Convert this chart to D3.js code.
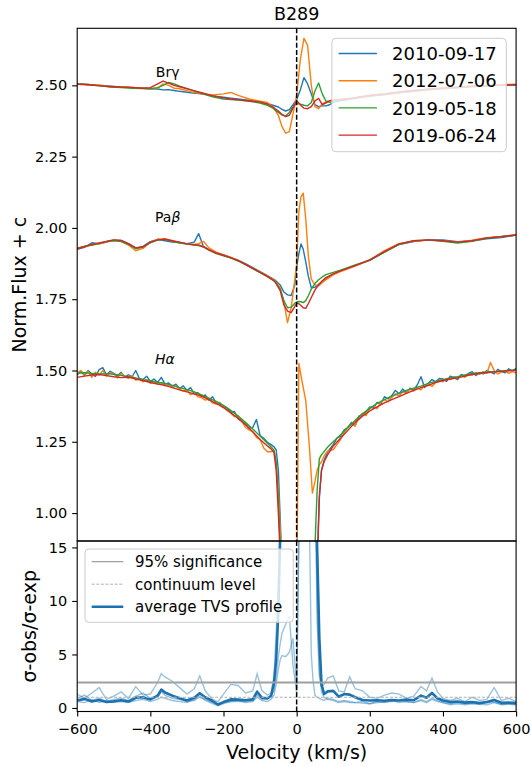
<!DOCTYPE html>
<html><head><meta charset="utf-8">
<script src="https://cdn.jsdelivr.net/npm/d3@7"></script>
<style>body{margin:0;background:#fff}text{font-family:"DejaVu Sans",sans-serif;fill:#000}</style>
</head><body><svg id="c" width="531" height="767"></svg>
<script>
// ---------- data ----------
const title = "B289";
const dates = ["2010-09-17","2012-07-06","2019-05-18","2019-06-24"];
const colors = ["#1f77b4","#ff7f0e","#2ca02c","#d62728"];
const lineNames = ["Brγ","Paβ","Hα"];
const xTicks = [-600,-400,-200,0,200,400,600];
const yTicksTop = [1.00,1.25,1.50,1.75,2.00,2.25,2.50];
const yTicksBottom = [0,5,10,15];
const tvsLegend = ["95% significance","continuum level","average TVS profile"];
const sigLevel = 2.38;
const contLevel = 1.0;

const velBrg = [-600,-570,-540,-510,-480,-450,-420,-400,-380,-365,-350,-335,-320,-290,-260,-230,-200,-180,-160,-130,-100,
  -80,-65,-50,-40,-30,-20,-10,0,10,20,30,40,50,60,70,80,90,100,
  120,150,180,210,240,270,300,330,360,390,420,450,480,510,540,570,600];
const brg2010 = [2.505,2.503,2.500,2.497,2.494,2.492,2.490,2.488,2.487,2.484,2.485,2.482,2.479,2.474,2.470,2.463,2.458,2.455,2.452,2.447,2.442,
  2.436,2.430,2.424,2.416,2.410,2.415,2.432,2.450,2.484,2.527,2.505,2.470,2.432,2.425,2.428,2.428,2.432,2.440,
  2.446,2.452,2.458,2.463,2.467,2.472,2.476,2.480,2.484,2.487,2.490,2.492,2.495,2.497,2.499,2.500,2.502];
const brg2012 = [2.506,2.502,2.501,2.496,2.495,2.493,2.490,2.488,2.490,2.505,2.500,2.490,2.488,2.478,2.470,2.466,2.470,2.475,2.465,2.452,2.444,
  2.440,2.425,2.395,2.355,2.332,2.338,2.400,2.465,2.590,2.665,2.640,2.500,2.425,2.418,2.435,2.442,2.446,2.448,
  2.452,2.455,2.460,2.466,2.470,2.474,2.478,2.482,2.486,2.489,2.491,2.494,2.497,2.499,2.501,2.503,2.504];
const brg2019a = [2.505,2.503,2.499,2.494,2.492,2.490,2.489,2.488,2.492,2.500,2.510,2.505,2.497,2.485,2.472,2.460,2.452,2.450,2.448,2.444,2.438,
  2.430,2.420,2.405,2.396,2.393,2.405,2.425,2.436,2.434,2.430,2.428,2.440,2.480,2.508,2.470,2.445,2.440,2.444,
  2.449,2.454,2.460,2.465,2.470,2.474,2.479,2.483,2.486,2.489,2.492,2.494,2.497,2.499,2.500,2.501,2.502];
const brg2019b = [2.504,2.502,2.498,2.496,2.494,2.493,2.490,2.492,2.505,2.515,2.508,2.500,2.495,2.484,2.474,2.464,2.456,2.452,2.449,2.446,2.442,
  2.434,2.424,2.410,2.398,2.390,2.395,2.420,2.446,2.432,2.420,2.418,2.425,2.445,2.454,2.432,2.438,2.446,2.448,
  2.450,2.455,2.461,2.466,2.470,2.475,2.479,2.483,2.486,2.489,2.492,2.494,2.497,2.498,2.500,2.501,2.502];

const velPab = [-600,-580,-560,-540,-520,-500,-480,-460,-440,-420,-400,-380,-360,-340,-320,-300,-280,-268,-255,-240,-220,-200,-180,-160,-140,-120,-100,-80,-60,
  -45,-35,-25,-15,-5,0,
  6,12,18,25,32,40,50,60,70,80,
  100,120,160,200,240,280,320,360,400,440,480,520,560,600];
const pab2010 = [1.925,1.932,1.948,1.944,1.950,1.957,1.956,1.945,1.930,1.935,1.952,1.960,1.955,1.950,1.949,1.945,1.950,1.980,1.935,1.924,1.913,1.905,1.896,1.887,1.875,1.861,1.847,1.833,1.818,
  1.800,1.775,1.765,1.763,1.800,1.862,
  1.910,1.944,1.925,1.880,1.830,1.790,1.792,1.802,1.812,1.822,
  1.838,1.849,1.868,1.886,1.915,1.942,1.952,1.958,1.958,1.952,1.955,1.962,1.966,1.975];
const pab2012 = [1.928,1.934,1.940,1.944,1.950,1.957,1.953,1.940,1.920,1.928,1.950,1.960,1.962,1.955,1.948,1.944,1.942,1.945,1.953,1.930,1.915,1.905,1.897,1.886,1.872,1.858,1.845,1.832,1.815,
  1.790,1.740,1.668,1.720,1.820,1.873,
  2.057,2.110,2.122,2.030,1.900,1.820,1.800,1.797,1.808,1.818,
  1.835,1.847,1.866,1.888,1.920,1.945,1.953,1.957,1.955,1.950,1.957,1.966,1.970,1.976];
const pab2019a = [1.929,1.936,1.940,1.946,1.952,1.955,1.952,1.942,1.927,1.933,1.948,1.957,1.960,1.953,1.947,1.943,1.940,1.938,1.933,1.922,1.910,1.902,1.894,1.884,1.871,1.857,1.843,1.829,1.812,
  1.785,1.745,1.720,1.722,1.736,1.740,
  1.742,1.741,1.738,1.745,1.762,1.785,1.805,1.818,1.828,1.836,
  1.844,1.852,1.870,1.887,1.915,1.942,1.955,1.957,1.953,1.947,1.953,1.964,1.970,1.975];
const pab2019b = [1.927,1.934,1.942,1.947,1.953,1.958,1.956,1.945,1.930,1.933,1.950,1.958,1.960,1.955,1.950,1.944,1.941,1.940,1.934,1.923,1.912,1.904,1.896,1.885,1.872,1.858,1.844,1.830,1.813,
  1.780,1.730,1.708,1.703,1.725,1.736,
  1.734,1.728,1.720,1.718,1.735,1.756,1.782,1.800,1.815,1.826,
  1.839,1.849,1.868,1.888,1.917,1.944,1.955,1.958,1.955,1.950,1.955,1.965,1.969,1.975];

// H-alpha: smooth spectra (2019) on a coarser grid, noisy spectra (2010, 2012) on a finer grid
const velHa = [-600,-580,-560,-540,-520,-500,-480,-460,-440,-420,-400,-380,-360,-340,-320,-300,-280,-260,-240,-220,-200,-180,-160,-140,-120,-100,-80,
  -70,-62,-56,-50,-44,-38,-20,
  0,6,15,25,35,43,50,56,62,68,75,85,
  100,120,140,160,180,200,220,240,260,280,300,320,340,360,380,400,420,440,460,480,500,520,540,560,580,600];
const velHaFine = [-600,-590,-580,-570,-560,-550,-540,-530,-520,-510,-500,-490,-480,-470,-460,-450,-440,-430,-420,-410,
  -400,-390,-380,-370,-360,-350,-340,-330,-320,-310,-300,-290,-280,-270,-260,-250,-240,-230,-220,-210,
  -200,-190,-180,-170,-160,-150,-140,-130,-120,-110,-100,-90,-80,
  -70,-62,-56,-50,-44,-38,-20,
  0,6,15,25,35,43,50,56,62,68,75,85,
  100,110,120,130,140,150,160,170,180,190,200,210,220,230,240,250,260,270,280,290,
  300,310,320,330,340,350,360,370,380,390,400,410,420,430,440,450,460,470,480,490,
  500,510,520,530,540,550,560,570,580,590,600];
const ha2010 = [1.485,1.496,1.482,1.500,1.488,1.479,1.503,1.510,1.484,1.497,1.490,1.481,1.494,1.476,1.485,1.478,1.500,1.472,1.468,1.480,
  1.462,1.470,1.458,1.476,1.452,1.456,1.445,1.452,1.436,1.446,1.430,1.440,1.418,1.422,1.408,1.414,1.396,1.408,1.385,1.382,
  1.372,1.368,1.352,1.356,1.330,1.322,1.312,1.298,1.300,1.328,1.272,1.262,1.248,
  1.240,1.232,1.222,1.150,0.950,0.700,0.450,
  0.400,0.400,0.400,0.420,0.480,0.550,0.650,0.800,1.050,1.150,1.185,1.215,
  1.240,1.262,1.270,1.292,1.300,1.318,1.305,1.340,1.345,1.356,1.372,1.368,1.388,1.382,1.408,1.400,1.412,1.430,1.418,1.435,
  1.422,1.438,1.430,1.450,1.478,1.440,1.455,1.468,1.460,1.472,1.470,1.462,1.480,1.475,1.468,1.486,1.480,1.490,1.496,1.482,
  1.492,1.488,1.500,1.494,1.488,1.504,1.496,1.492,1.506,1.498,1.508];
const ha2012 = [1.492,1.500,1.485,1.497,1.476,1.494,1.484,1.500,1.480,1.492,1.488,1.474,1.490,1.478,1.472,1.482,1.466,1.470,1.460,1.468,
  1.455,1.462,1.452,1.458,1.446,1.450,1.440,1.446,1.434,1.428,1.432,1.415,1.420,1.408,1.405,1.396,1.400,1.386,1.382,1.388,
  1.370,1.360,1.350,1.338,1.342,1.322,1.300,1.292,1.285,1.265,1.258,1.228,1.215,
  1.215,1.220,1.180,1.080,0.920,0.800,0.600,
  0.700,1.525,1.460,1.393,1.230,1.070,1.110,1.150,1.170,1.180,1.200,1.218,
  1.222,1.240,1.258,1.282,1.300,1.312,1.306,1.335,1.350,1.342,1.368,1.375,1.366,1.388,1.398,1.390,1.405,1.418,1.410,1.425,
  1.420,1.435,1.428,1.440,1.432,1.448,1.452,1.444,1.458,1.465,1.460,1.472,1.468,1.478,1.474,1.482,1.476,1.488,1.484,1.492,
  1.486,1.496,1.490,1.528,1.500,1.488,1.494,1.498,1.490,1.496,1.492];
const ha2019a = [1.490,1.492,1.490,1.488,1.489,1.487,1.483,1.478,1.474,1.468,1.463,1.458,1.455,1.448,1.440,1.433,1.425,1.414,1.403,1.392,1.378,1.360,1.340,1.318,1.295,1.270,1.245,
  1.232,1.220,1.180,1.050,0.850,0.650,0.450,
  0.400,0.400,0.400,0.420,0.480,0.600,0.880,1.080,1.190,1.205,1.215,1.232,
  1.250,1.275,1.300,1.325,1.348,1.367,1.385,1.398,1.410,1.420,1.430,1.438,1.445,1.455,1.462,1.468,1.474,1.478,1.484,1.490,1.492,1.494,1.496,1.498,1.500,1.502];
const ha2019b = [1.476,1.480,1.484,1.486,1.482,1.478,1.475,1.477,1.470,1.465,1.458,1.452,1.448,1.440,1.432,1.425,1.418,1.410,1.398,1.385,1.370,1.352,1.332,1.310,1.285,1.258,1.235,
  1.225,1.212,1.150,1.000,0.820,0.620,0.450,
  0.400,0.400,0.400,0.420,0.450,0.500,0.600,0.820,1.060,1.150,1.180,1.205,
  1.235,1.262,1.290,1.318,1.340,1.358,1.372,1.386,1.398,1.408,1.420,1.430,1.440,1.448,1.458,1.465,1.470,1.474,1.480,1.486,1.490,1.492,1.495,1.497,1.499,1.501];

const velTvs = [-600,-580,-560,-540,-520,-500,-480,-460,-440,-420,-400,-380,
  -370,-360,-340,-320,-300,-280,
  -265,-250,-230,-215,-200,
  -180,-160,-140,-120,
  -108,-95,-80,-70,-62,-56,-50,-45,-40,-30,-20,-10,0,
  10,20,30,40,45,50,56,62,68,75,85,
  100,115,130,145,160,
  180,200,220,240,260,280,300,320,340,
  355,370,385,400,
  420,440,460,480,500,520,540,560,580,600];
const tvsAvg = [0.70,0.85,0.60,0.75,0.55,0.62,0.72,0.60,0.95,1.00,0.80,1.15,
  1.72,1.45,1.15,0.90,0.70,0.95,
  1.38,1.00,0.65,0.32,0.55,
  0.80,0.78,0.72,0.80,
  1.52,0.95,0.90,1.10,2.30,4.50,9.00,16.0,22.0,30,30,30,30,
  30,30,30,30,30,25,15,6.5,2.2,1.3,1.55,
  1.60,1.05,1.30,1.25,1.00,
  0.75,0.70,0.72,0.68,0.75,0.70,0.78,0.72,1.15,
  0.95,1.40,0.90,0.70,
  0.55,0.60,0.50,0.55,0.45,0.55,0.75,0.48,0.50,0.45];
const tvsA = [1.3,0.9,1.4,1.9,0.8,1.1,1.5,0.9,2.0,1.2,1.3,2.4,
  3.2,2.9,2.5,1.9,1.3,1.8,
  3.0,1.6,0.8,0.6,1.3,
  2.2,2.1,1.4,1.6,
  3.2,1.6,1.2,1.4,3.0,7.0,12,18,25,30,30,30,30,
  30,30,30,30,30,22,8,3.0,2.0,2.2,2.8,
  3.0,1.6,1.5,2.9,1.8,
  1.6,1.0,0.9,1.2,1.4,1.3,0.9,1.1,2.0,
  1.6,2.8,1.5,0.9,
  0.7,0.9,0.6,1.0,0.7,0.8,1.9,0.7,0.9,0.6];
const tvsB = [0.9,1.2,0.7,0.9,0.6,0.8,0.9,0.7,1.1,1.4,0.9,1.0,
  1.5,1.2,0.9,0.8,0.6,0.7,
  1.0,0.8,0.5,0.3,0.5,
  0.6,0.6,0.6,0.7,
  1.2,0.8,0.9,1.2,1.6,3.0,4.8,6.0,7.0,7.8,8.6,4.0,1.4,
  25,30,30,5.0,2.5,1.2,1.0,0.9,0.8,0.7,0.9,
  0.8,0.6,0.7,0.6,0.5,
  0.45,0.4,0.5,0.55,0.6,0.7,0.6,0.5,0.8,
  0.6,0.9,0.7,0.5,
  0.4,0.5,0.4,0.45,0.4,0.5,0.55,0.35,0.4,0.35];
const tvsC = [0.6,0.5,0.8,0.5,0.7,0.5,0.6,0.5,0.7,0.8,0.6,0.8,
  1.0,0.9,0.7,0.6,0.5,0.8,
  1.1,0.7,0.4,0.2,0.4,
  0.6,0.7,0.5,0.6,
  1.0,0.7,0.6,0.8,1.2,2.2,3.6,4.5,4.9,4.8,5.2,6.5,2.0,
  25,30,30,30,30,25,10,3.5,1.5,1.0,0.8,
  0.7,0.5,0.6,0.5,0.5,
  0.6,0.4,0.6,0.5,0.7,0.5,0.6,0.5,0.7,
  0.5,0.8,0.6,0.5,
  0.3,0.4,0.3,0.4,0.35,0.3,0.5,0.3,0.35,0.3];

const spectra = [
  {vel: velBrg, s: [brg2010, brg2012, brg2019a, brg2019b]},
  {vel: velPab, s: [pab2010, pab2012, pab2019a, pab2019b]},
  {vel: [velHaFine, velHaFine, velHa, velHa], s: [ha2010, ha2012, ha2019a, ha2019b]}
];

// ---------- layout ----------
const L = 77.2, R = 516.1, T = 28.3, MID = 541, B = 711.5;
const svg = d3.select("#c");
svg.append("rect").attr("width",531).attr("height",767).attr("fill","#fff");

const x = d3.scaleLinear().domain([-600,600]).range([L,R]);
const y1 = d3.scaleLinear().domain([0.902,2.70]).range([MID,T]);
const y2 = d3.scaleLinear().domain([-0.33,15.6]).range([B,MID]);

const defs = svg.append("defs");
defs.append("clipPath").attr("id","cTop").append("rect").attr("x",L).attr("y",T).attr("width",R-L).attr("height",MID-T);
defs.append("clipPath").attr("id","cBot").append("rect").attr("x",L).attr("y",MID).attr("width",R-L).attr("height",B-MID);

// ---------- top panel ----------
const gTop = svg.append("g").attr("clip-path","url(#cTop)");
spectra.forEach(p => {
  p.s.forEach((s,k) => {
    const vel = Array.isArray(p.vel[0]) ? p.vel[k] : p.vel;
    const pts = vel.map((v,i) => [v, s[i]]).filter(d => d[1] !== undefined);
    gTop.append("path").datum(pts)
      .attr("d", d3.line().x(d=>x(d[0])).y(d=>y1(d[1])))
      .attr("fill","none").attr("stroke",colors[k]).attr("stroke-width",1.4)
      .attr("stroke-linejoin","round");
  });
});
gTop.append("line").attr("x1",x(0)).attr("x2",x(0)).attr("y1",T).attr("y2",MID)
  .attr("stroke","#000").attr("stroke-width",1.5).attr("stroke-dasharray","5,2.2");

// line labels
const lbl = svg.append("g").style("font-size","14px");
lbl.append("text").attr("x",155.8).attr("y",77.3).text(lineNames[0]);
const tPa = lbl.append("text").attr("x",155).attr("y",221.7);
tPa.append("tspan").text("Pa"); tPa.append("tspan").style("font-style","italic").text("β");
lbl.append("text").attr("x",155).attr("y",364).style("font-style","italic").text("Hα");

// top legend
const lg = svg.append("g");
lg.append("rect").attr("x",331.9).attr("y",38.3).attr("width",174.4).attr("height",113.4).attr("rx",4)
  .attr("fill","#fff").attr("fill-opacity",0.8).attr("stroke","#ccc").attr("stroke-width",1);
dates.forEach((d,k) => {
  const yy = 53.5 + k*27.2;
  lg.append("line").attr("x1",338.6).attr("x2",376.9).attr("y1",yy).attr("y2",yy)
    .attr("stroke",colors[k]).attr("stroke-width",1.4);
  lg.append("text").attr("x",392.1).attr("y",yy+6.6).style("font-size","18px").text(d);
});

// ---------- bottom panel ----------
const gBot = svg.append("g").attr("clip-path","url(#cBot)");
[tvsA, tvsB, tvsC].forEach(s => {
  const pts = velTvs.map((v,i)=>[v, s[i]]);
  gBot.append("path").datum(pts).attr("d", d3.line().x(d=>x(d[0])).y(d=>y2(d[1])))
    .attr("fill","none").attr("stroke","#1f77b4").attr("stroke-opacity",0.45).attr("stroke-width",1.4);
});
gBot.append("path").datum(velTvs.map((v,i)=>[v, tvsAvg[i]]))
  .attr("d", d3.line().x(d=>x(d[0])).y(d=>y2(d[1])))
  .attr("fill","none").attr("stroke","#1b72b0").attr("stroke-width",2.6).attr("stroke-linejoin","round");
gBot.append("line").attr("x1",L).attr("x2",R).attr("y1",y2(sigLevel)).attr("y2",y2(sigLevel))
  .attr("stroke","#a0a0a0").attr("stroke-width",1.8);
gBot.append("line").attr("x1",L).attr("x2",R).attr("y1",y2(contLevel)).attr("y2",y2(contLevel))
  .attr("stroke","#b0b0b0").attr("stroke-width",1).attr("stroke-dasharray","3,1.6");
gBot.append("line").attr("x1",x(0)).attr("x2",x(0)).attr("y1",MID).attr("y2",B)
  .attr("stroke","#000").attr("stroke-width",1.5).attr("stroke-dasharray","5,2.2");

// bottom legend
const lg2 = svg.append("g");
lg2.append("rect").attr("x",85).attr("y",549).attr("width",208.3).attr("height",73.3).attr("rx",4)
  .attr("fill","#fff").attr("fill-opacity",0.8).attr("stroke","#ccc").attr("stroke-width",1);
const lgStyles = [
  {c:"#a0a0a0", w:1.3, dash:null},
  {c:"#b0b0b0", w:1, dash:"3,1.6"},
  {c:"#1b72b0", w:2.6, dash:null}
];
tvsLegend.forEach((t,k) => {
  const yy = 561.7 + k*22.5;
  const ln = lg2.append("line").attr("x1",91.7).attr("x2",123.3).attr("y1",yy).attr("y2",yy)
    .attr("stroke",lgStyles[k].c).attr("stroke-width",lgStyles[k].w);
  if (lgStyles[k].dash) ln.attr("stroke-dasharray",lgStyles[k].dash);
  lg2.append("text").attr("x",135).attr("y",yy+5.4).style("font-size","15px").text(t);
});

// ---------- axes ----------
function styleAxis(g){
  g.select(".domain").remove();
  g.selectAll(".tick line").attr("stroke","#000").attr("stroke-width",1.1);
  g.selectAll(".tick text").style("font-size","14.5px").style("font-family","DejaVu Sans").attr("fill","#000");
}
svg.append("g").attr("transform",`translate(${L},0)`)
  .call(d3.axisLeft(y1).tickValues(yTicksTop).tickFormat(d3.format(".2f")).tickSize(5).tickPadding(5))
  .call(styleAxis);
svg.append("g").attr("transform",`translate(${L},0)`)
  .call(d3.axisLeft(y2).tickValues(yTicksBottom).tickFormat(d3.format("d")).tickSize(5).tickPadding(5))
  .call(styleAxis);
svg.append("g").attr("transform",`translate(0,${B})`)
  .call(d3.axisBottom(x).tickValues(xTicks).tickFormat(d3.format("d")).tickSize(5).tickPadding(7))
  .call(styleAxis);

// spines
[[T,MID],[MID,B]].forEach(([a,b]) => {
  svg.append("rect").attr("x",L).attr("y",a).attr("width",R-L).attr("height",b-a)
    .attr("fill","none").attr("stroke","#000").attr("stroke-width",1.1);
});

// titles / labels
svg.append("text").attr("x",(L+R)/2).attr("y",20).attr("text-anchor","middle").style("font-size","17.5px").text(title);
svg.append("text").attr("x",(L+R)/2).attr("y",759).attr("text-anchor","middle").style("font-size","19px").text("Velocity (km/s)");
svg.append("text").attr("transform",`translate(25.5,${(T+MID)/2}) rotate(-90)`).attr("text-anchor","middle")
  .style("font-size","19px").text("Norm.Flux + c");
svg.append("text").attr("transform",`translate(35.5,${(MID+B)/2}) rotate(-90)`).attr("text-anchor","middle")
  .style("font-size","19px").text("σ-obs/σ-exp");
</script></body></html>
